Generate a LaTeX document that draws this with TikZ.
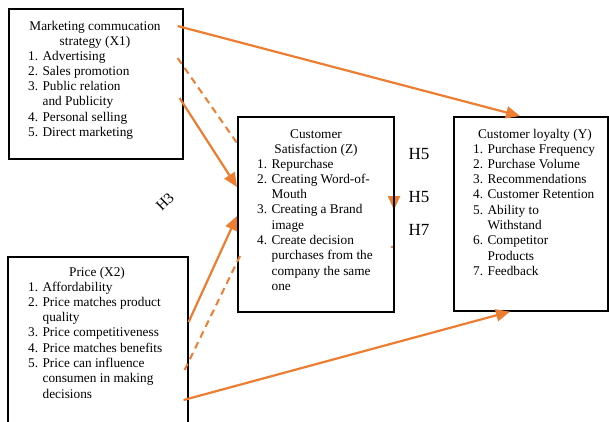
\documentclass[tikz,border=0pt]{standalone}
\usepackage{fontspec}
\setmainfont{Liberation Serif}
\usetikzlibrary{arrows.meta, calc}
\definecolor{linkorange}{RGB}{237,125,49}

\begin{document}
\begin{tikzpicture}[x=1pt, y=-1pt,
    varbox/.style={rectangle, draw=black, line width=1.6pt, anchor=north west, inner sep=0pt},
    titletext/.style={font=\fontsize{13.3}{15.3}\selectfont, anchor=base, inner sep=0pt},
    itemtext/.style={font=\fontsize{13.3}{15.3}\selectfont, anchor=base west, inner sep=0pt},
    hyp/.style={font=\fontsize{17}{20}\selectfont, anchor=base, inner sep=0pt},
    link/.style={draw=linkorange, line width=2.2pt, -{Triangle[length=14pt,width=12pt]}},
    dlink/.style={draw=linkorange, line width=2pt, dash pattern=on 7pt off 5pt}
]
\clip (0,0) rectangle (609,421);

% hidden link along the right edge of Z
\coordinate (h5top) at (394,170);
\coordinate (h5tip) at (394,210);
\draw[link] (h5top) -- (h5tip);
\fill[linkorange] (392,247) circle (1.3pt);

% Boxes
\node[varbox, minimum width=174, minimum height=150] (X1) at (8,8) {};
\node[varbox, minimum width=180, minimum height=200] (X2) at (7,256) {};
\node[varbox, minimum width=156, minimum height=195] (Z) at (237,116) {};
\node[varbox, minimum width=154, minimum height=194] (Y) at (453,116) {};

% X1 text
\node[titletext] (x1title) at (95,30) {\begin{tabular}[t]{@{}c@{}}Marketing commucation\\strategy (X1)\end{tabular}};
\node[itemtext] (x1list) at (28,60) {\begin{tabular}[t]{@{}r@{ }l@{}}
1. & Advertising\\
2. & Sales promotion\\
3. & Public relation\\
   & and Publicity\\
4. & Personal selling\\
5. & Direct marketing
\end{tabular}};

% X2 text
\node[titletext] (x2title) at (97,276) {Price (X2)};
\node[itemtext] (x2list) at (28,291) {\begin{tabular}[t]{@{}r@{ }l@{}}
1. & Affordability\\
2. & Price matches product\\
   & quality\\
3. & Price competitiveness\\
4. & Price matches benefits\\
5. & Price can influence\\
   & consumen in making\\
   & decisions
\end{tabular}};

% Z text
\node[titletext] (ztitle) at (316,138) {\begin{tabular}[t]{@{}c@{}}Customer\\Satisfaction (Z)\end{tabular}};
\node[itemtext] (zlist) at (257,168) {\begin{tabular}[t]{@{}r@{ }l@{}}
1. & Repurchase\\
2. & Creating Word-of-\\
   & Mouth\\
3. & Creating a Brand\\
   & image\\
4. & Create decision\\
   & purchases from the\\
   & company the same\\
   & one
\end{tabular}};

% Y text
\node[titletext] (ytitle) at (535,138) {Customer loyalty (Y)};
\node[itemtext] (ylist) at (473,153) {\begin{tabular}[t]{@{}r@{ }l@{}}
1. & Purchase Frequency\\
2. & Purchase Volume\\
3. & Recommendations\\
4. & Customer Retention\\
5. & Ability to\\
   & Withstand\\
6. & Competitor\\
   & Products\\
7. & Feedback
\end{tabular}};

% Hypothesis labels
\node[hyp] (h5a) at (419,159) {H5};
\node[hyp] (h5b) at (419,202) {H5};
\node[hyp] (h7) at (419,235) {H7};
\node[font=\fontsize{15}{17}\selectfont, rotate=45, inner sep=0pt] (h3) at (165,202) {H3};

% Links
\draw[link] ($(X1.north east)+(-6,18)$) -- ($(Y.north west)+(67,0)$);
\draw[dlink] ($(X1.north east)+(-6,50)$) -- ($(Z.north west)+(0,27)$);
\draw[link] ($(X1.north east)+(-4,90)$) -- ($(Z.north west)+(0,71)$);
\draw[link] ($(X2.north east)+(0,66)$) -- ($(Z.north west)+(0,100)$);
\draw[dlink] ($(X2.north east)+(-4,114)$) -- ($(Z.north west)+(3,140)$);
\draw[link] ($(X2.north east)+(-5,144)$) -- ($(Y.south west)+(57,0)$);

\end{tikzpicture}
\end{document}
